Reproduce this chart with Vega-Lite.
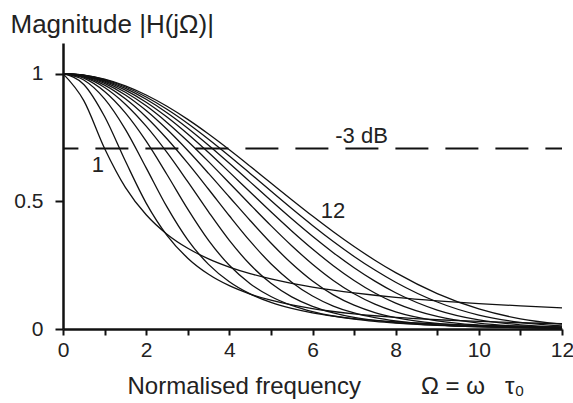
{
  "$schema": "https://vega.github.io/schema/vega-lite/v6.json",
  "width": 499,
  "height": 286,
  "autosize": {"type": "none"},
  "padding": {"left": 63, "top": 43, "right": 11, "bottom": 74},
  "background": "white",
  "config": {"view": {"stroke": null}, "font": "Liberation Sans", "axis": {"labelOverlap": false, "labelFlush": false}},
  "layer": [
    {
      "data": {"values": [
        {"w": 0, "n1": 1, "n2": 1, "n3": 1, "n4": 1, "n5": 1, "n6": 1, "n7": 1, "n8": 1, "n9": 1, "n10": 1, "n11": 1, "n12": 1},
        {"w": 0.5, "n1": 0.8944, "n2": 0.9577, "n3": 0.9751, "n4": 0.9822, "n5": 0.9862, "n6": 0.9887, "n7": 0.9904, "n8": 0.9917, "n9": 0.9927, "n10": 0.9934, "n11": 0.9941, "n12": 0.9946},
        {"w": 1, "n1": 0.7071, "n2": 0.8321, "n3": 0.9013, "n4": 0.9300, "n5": 0.9456, "n6": 0.9553, "n7": 0.9621, "n8": 0.9671, "n9": 0.9710, "n10": 0.9740, "n11": 0.9764, "n12": 0.9785},
        {"w": 1.5, "n1": 0.5547, "n2": 0.6576, "n3": 0.7819, "n4": 0.8463, "n5": 0.8804, "n6": 0.9017, "n7": 0.9165, "n8": 0.9273, "n9": 0.9357, "n10": 0.9423, "n11": 0.9477, "n12": 0.9522},
        {"w": 2, "n1": 0.4472, "n2": 0.4932, "n3": 0.6311, "n4": 0.7355, "n5": 0.7942, "n6": 0.8305, "n7": 0.8555, "n8": 0.8739, "n9": 0.8882, "n10": 0.8995, "n11": 0.9087, "n12": 0.9164},
        {"w": 2.5, "n1": 0.3714, "n2": 0.3670, "n3": 0.4780, "n4": 0.6051, "n5": 0.6913, "n6": 0.7450, "n7": 0.7819, "n8": 0.8091, "n9": 0.8301, "n10": 0.8470, "n11": 0.8607, "n12": 0.8722},
        {"w": 3, "n1": 0.3162, "n2": 0.2774, "n3": 0.3492, "n4": 0.4696, "n5": 0.5769, "n6": 0.6493, "n7": 0.6988, "n8": 0.7353, "n9": 0.7636, "n10": 0.7864, "n11": 0.8051, "n12": 0.8208},
        {"w": 3.5, "n1": 0.2747, "n2": 0.2144, "n3": 0.2530, "n4": 0.3472, "n5": 0.4586, "n6": 0.5472, "n7": 0.6094, "n8": 0.6553, "n9": 0.6910, "n10": 0.7197, "n11": 0.7435, "n12": 0.7635},
        {"w": 4, "n1": 0.2425, "n2": 0.1696, "n3": 0.1850, "n4": 0.2494, "n5": 0.3470, "n6": 0.4434, "n7": 0.5171, "n8": 0.5718, "n9": 0.6144, "n10": 0.6490, "n11": 0.6777, "n12": 0.7020},
        {"w": 4.5, "n1": 0.2169, "n2": 0.1370, "n3": 0.1375, "n4": 0.1776, "n5": 0.2523, "n6": 0.3439, "n7": 0.4250, "n8": 0.4875, "n9": 0.5364, "n10": 0.5761, "n11": 0.6093, "n12": 0.6376},
        {"w": 5, "n1": 0.1961, "n2": 0.1127, "n3": 0.1042, "n4": 0.1272, "n5": 0.1790, "n6": 0.2556, "n7": 0.3367, "n8": 0.4048, "n9": 0.4589, "n10": 0.5030, "n11": 0.5401, "n12": 0.5719},
        {"w": 5.5, "n1": 0.1789, "n2": 0.0942, "n3": 0.0805, "n4": 0.0922, "n5": 0.1260, "n6": 0.1835, "n7": 0.2563, "n8": 0.3261, "n9": 0.3839, "n10": 0.4315, "n11": 0.4717, "n12": 0.5064},
        {"w": 6, "n1": 0.1644, "n2": 0.0798, "n3": 0.0632, "n4": 0.0679, "n5": 0.0889, "n6": 0.1290, "n7": 0.1879, "n8": 0.2537, "n9": 0.3132, "n10": 0.3631, "n11": 0.4055, "n12": 0.4423},
        {"w": 6.5, "n1": 0.1521, "n2": 0.0685, "n3": 0.0505, "n4": 0.0509, "n5": 0.0634, "n6": 0.0899, "n7": 0.1336, "n8": 0.1903, "n9": 0.2481, "n10": 0.2990, "n11": 0.3427, "n12": 0.3809},
        {"w": 7, "n1": 0.1414, "n2": 0.0593, "n3": 0.0409, "n4": 0.0387, "n5": 0.0457, "n6": 0.0628, "n7": 0.0932, "n8": 0.1380, "n9": 0.1902, "n10": 0.2401, "n11": 0.2842, "n12": 0.3230},
        {"w": 7.5, "n1": 0.1322, "n2": 0.0519, "n3": 0.0336, "n4": 0.0299, "n5": 0.0335, "n6": 0.0442, "n7": 0.0645, "n8": 0.0974, "n9": 0.1410, "n10": 0.1876, "n11": 0.2308, "n12": 0.2694},
        {"w": 8, "n1": 0.1240, "n2": 0.0458, "n3": 0.0279, "n4": 0.0234, "n5": 0.0249, "n6": 0.0314, "n7": 0.0447, "n8": 0.0675, "n9": 0.1013, "n10": 0.1420, "n11": 0.1830, "n12": 0.2206},
        {"w": 9, "n1": 0.1104, "n2": 0.0363, "n3": 0.0198, "n4": 0.0149, "n5": 0.0143, "n6": 0.0165, "n7": 0.0218, "n8": 0.0319, "n9": 0.0490, "n10": 0.0743, "n11": 0.1058, "n12": 0.1387},
        {"w": 10, "n1": 0.0995, "n2": 0.0295, "n3": 0.0145, "n4": 0.0099, "n5": 0.0087, "n6": 0.0091, "n7": 0.0112, "n8": 0.0153, "n9": 0.0229, "n10": 0.0356, "n11": 0.0545, "n12": 0.0786},
        {"w": 11, "n1": 0.0905, "n2": 0.0245, "n3": 0.0110, "n4": 0.0069, "n5": 0.0055, "n6": 0.0053, "n7": 0.0060, "n8": 0.0077, "n9": 0.0108, "n10": 0.0165, "n11": 0.0258, "n12": 0.0400},
        {"w": 12, "n1": 0.0830, "n2": 0.0206, "n3": 0.0085, "n4": 0.0049, "n5": 0.0036, "n6": 0.0032, "n7": 0.0033, "n8": 0.0040, "n9": 0.0053, "n10": 0.0077, "n11": 0.0119, "n12": 0.0188}
      ]},
      "transform": [{"fold": ["n1", "n2", "n3", "n4", "n5", "n6", "n7", "n8", "n9", "n10", "n11", "n12"], "as": ["order", "mag"]}],
      "mark": {"type": "line", "interpolate": "monotone", "color": "#111", "strokeWidth": 1.3},
      "encoding": {
        "x": {
          "field": "w", "type": "quantitative",
          "scale": {"domain": [0, 12], "nice": false},
          "axis": {
            "values": [0, 1, 2, 3, 4, 5, 6, 7, 8, 9, 10, 11, 12],
            "format": "d",
            "labelExpr": "datum.value % 2 == 0 ? datum.label : ''",
            "labelOverlap": false, "labelFlush": false,
            "grid": false,
            "tickSize": 6, "tickWidth": 2, "tickColor": "#111",
            "domainColor": "#111", "domainWidth": 2.5,
            "labelFont": "Liberation Sans", "labelFontSize": 21, "labelColor": "#222", "labelPadding": 4,
            "title": "Normalised frequency\u00a0\u00a0\u00a0\u00a0\u00a0\u00a0\u00a0\u00a0\u00a0Ω\u00a0=\u00a0ω\u00a0\u00a0\u00a0τ₀",
            "titleFont": "Liberation Sans", "titleFontSize": 24, "titleFontWeight": "normal", "titleColor": "#222",
            "titleAlign": "left", "titleBaseline": "alphabetic", "titleX": 64, "titleY": 64
          }
        },
        "y": {
          "field": "mag", "type": "quantitative",
          "scale": {"domain": [0, 1.12], "nice": false},
          "axis": {
            "values": [0, 0.5, 1],
            "labelExpr": "abs(datum.value) < 0.001 ? '0' : abs(datum.value - 0.5) < 0.001 ? '0.5' : '1'",
            "labelOverlap": false, "labelFlush": false, "labelBound": false,
            "grid": false,
            "tickSize": 8,
            "tickWidth": 2, "tickColor": "#111",
            "domainColor": "#111", "domainWidth": 2.5,
            "labelFont": "Liberation Sans", "labelFontSize": 21, "labelColor": "#222", "labelPadding": 12,
            "title": "Magnitude |H(jΩ)|",
            "titleFont": "Liberation Sans", "titleFontSize": 26, "titleFontWeight": "normal", "titleColor": "#222",
            "titleAngle": 0, "titleAlign": "left", "titleBaseline": "alphabetic", "titleX": -53, "titleY": -11
          }
        },
        "detail": {"field": "order"}
      }
    },
    {
      "data": {"values": [{"mag": 0.7071}]},
      "mark": {"type": "rule", "strokeDash": [33, 17], "strokeDashOffset": 16.4, "color": "#111", "strokeWidth": 2},
      "encoding": {"y": {"field": "mag", "type": "quantitative"}}
    },
    {
      "data": {"values": [
        {"w": 0.84, "mag": 0.616, "label": "1"},
        {"w": 6.49, "mag": 0.435, "label": "12"},
        {"w": 7.18, "mag": 0.729, "label": "-3 dB"}
      ]},
      "mark": {"type": "text", "font": "Liberation Sans", "fontSize": 22, "baseline": "alphabetic", "align": "center", "color": "#222"},
      "encoding": {
        "x": {"field": "w", "type": "quantitative"},
        "y": {"field": "mag", "type": "quantitative"},
        "text": {"field": "label"}
      }
    }
  ]
}
